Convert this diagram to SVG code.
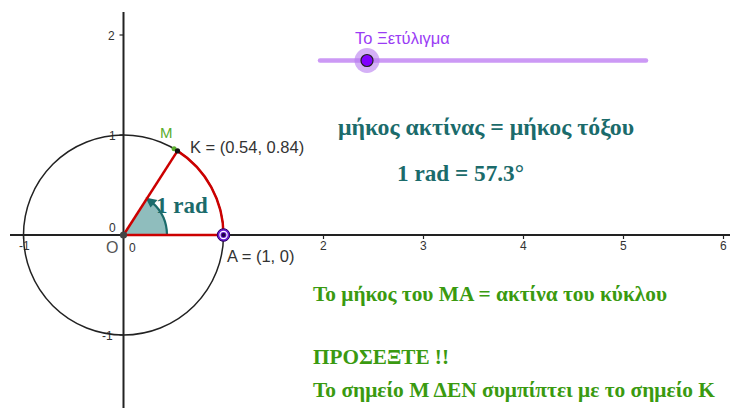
<svg xmlns="http://www.w3.org/2000/svg" width="730" height="408" viewBox="0 0 730 408">
<style>
.ax{stroke:#222;stroke-width:2;fill:none}
.tick{stroke:#222;stroke-width:1.2}
.num{font-family:"Liberation Sans",Arial,sans-serif;font-size:12px;fill:#333}
.lbl{font-family:"Liberation Sans",Arial,sans-serif;font-size:16.5px;fill:#333}
.teal{font-family:"Liberation Serif","Times New Roman",serif;font-weight:bold;fill:#1b6b6b}
.green{font-family:"Liberation Serif","Times New Roman",serif;font-weight:bold;font-size:21px;fill:#3a9a10}
.red{stroke:#cc0000;stroke-width:2.5;fill:none}
</style>
<rect width="730" height="408" fill="#fff"/>
<g id="axes">
<line class="ax" x1="10" y1="235" x2="730" y2="235"/>
<line class="ax" x1="123.5" y1="12" x2="123.5" y2="408"/>
<g class="tick">
<line x1="23.5" y1="235" x2="23.5" y2="239"/>
<line x1="223.5" y1="235" x2="223.5" y2="239"/>
<line x1="323.5" y1="235" x2="323.5" y2="239"/>
<line x1="423.5" y1="235" x2="423.5" y2="239"/>
<line x1="523.5" y1="235" x2="523.5" y2="239"/>
<line x1="623.5" y1="235" x2="623.5" y2="239"/>
<line x1="723.5" y1="235" x2="723.5" y2="239"/>
<line x1="119.5" y1="35" x2="123.5" y2="35"/>
<line x1="119.5" y1="135" x2="123.5" y2="135"/>
<line x1="119.5" y1="335" x2="123.5" y2="335"/>
</g>
<text class="num" x="19" y="250">-1</text>
<text class="num" x="320" y="250">2</text>
<text class="num" x="420" y="250">3</text>
<text class="num" x="520" y="250">4</text>
<text class="num" x="620" y="250">5</text>
<text class="num" x="720" y="250">6</text>
<text class="num" x="108" y="40">2</text>
<text class="num" x="109" y="140">1</text>
<text class="num" x="102" y="340">-1</text>
<text class="num" x="109" y="232">0</text>
<text class="num" x="129" y="252">0</text>
</g>
<g id="circle">
<circle cx="123.5" cy="235" r="100" fill="none" stroke="#222" stroke-width="1.5"/>
</g>
<g id="sector">
<path d="M123.5,235 L167,235 A43.5,43.5 0 0 0 147,198.4 Z" fill="#8fbdbd"/>
<path d="M167,235 A43.5,43.5 0 0 0 152,202.3" fill="none" stroke="#1b6b6b" stroke-width="2.2"/>
<polygon points="145.5,197.5 157.5,200 150.5,207.5" fill="#1b6b6b"/>
</g>
<g id="connectors">
<path class="red" d="M123.5,235 L223.5,235"/>
<path class="red" d="M123.5,235 L177.5,150.9"/>
<path class="red" d="M223.5,235 A100,100 0 0 0 177.5,150.9"/>
</g>
<g id="labels">
<text class="teal" x="156" y="213" font-size="23">1 rad</text>
<text x="160" y="138" font-family="Liberation Sans,Arial,sans-serif" font-size="15" fill="#5aae2e">M</text>
<text class="lbl" x="190" y="153">K = (0.54, 0.84)</text>
<text class="lbl" x="227" y="262">A = (1, 0)</text>
<text x="106" y="253" font-family="Liberation Sans,Arial,sans-serif" font-size="16" fill="#555">O</text>
</g>
<g id="point-M"><circle cx="174.1" cy="148.8" r="2.5" fill="#5aae2e"/></g>
<g id="point-K"><circle cx="177.5" cy="150.9" r="2.6" fill="#111"/></g>
<g id="point-O"><circle cx="123.5" cy="235" r="3.6" fill="#444"/></g>
<g id="point-A">
<circle cx="223.5" cy="235" r="6.3" fill="#6a1bd0" stroke="#2a0060" stroke-width="1"/>
<circle cx="223.5" cy="235" r="3.6" fill="none" stroke="#fff" stroke-width="1.2"/>
<circle cx="223.5" cy="235" r="2" fill="#1a0040"/>
</g>
<g id="slider">
<line x1="320" y1="60.5" x2="646" y2="60.5" stroke="#cc99f5" stroke-width="4.5" stroke-linecap="round"/>
<circle cx="367" cy="60.5" r="12.5" fill="#b77cf0" fill-opacity="0.6"/>
<circle cx="367" cy="60.5" r="6" fill="#8000ff" stroke="#222" stroke-width="1.2"/>
<text x="355" y="44" font-family="Liberation Sans,Arial,sans-serif" font-size="16.5" fill="#9a3cf5">Το Ξετύλιγμα</text>
</g>
<g id="texts">
<text class="teal" x="338" y="135" font-size="23.5" textLength="296" lengthAdjust="spacingAndGlyphs">μήκος ακτίνας = μήκος τόξου</text>
<text class="teal" x="397" y="181" font-size="23.5" textLength="127" lengthAdjust="spacingAndGlyphs">1 rad = 57.3°</text>
<text class="green" x="313" y="301" textLength="354" lengthAdjust="spacingAndGlyphs">Το μήκος του ΜΑ = ακτίνα του κύκλου</text>
<text class="green" x="313" y="364" textLength="136" lengthAdjust="spacingAndGlyphs">ΠΡΟΣΕΞΤΕ !!</text>
<text class="green" x="313" y="397" textLength="402" lengthAdjust="spacingAndGlyphs">Το σημείο Μ ΔΕΝ συμπίπτει με το σημείο Κ</text>
</g>
</svg>
